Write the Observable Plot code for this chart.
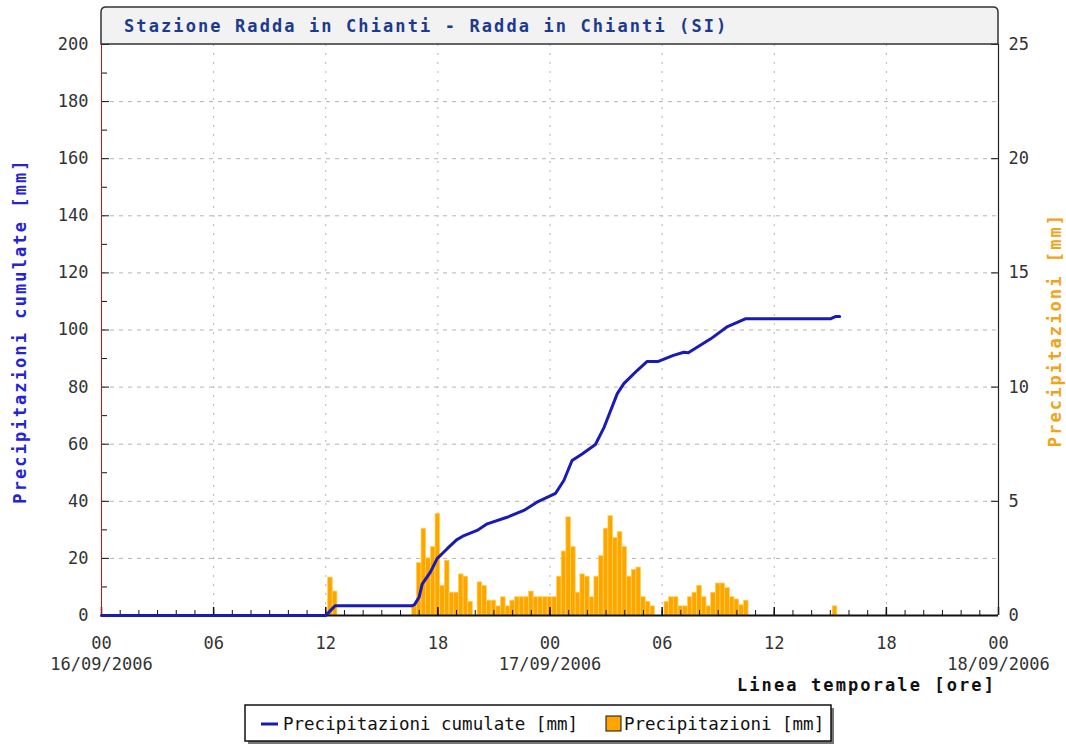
<!DOCTYPE html>
<html>
<head>
<meta charset="utf-8">
<script src="https://cdn.jsdelivr.net/npm/d3@7"></script>
<script src="https://cdn.jsdelivr.net/npm/@observablehq/plot@0.6"></script>
<style>
  html, body { margin: 0; padding: 0; background: #fff; }
  #chart { width: 1066px; height: 746px; }
</style>
</head>
<body>
<div id="chart"></div>
<script>
// ---------- DATA ----------
const title = "Stazione Radda in Chianti - Radda in Chianti (SI)";
const leftLabel = "Precipitazioni cumulate [mm]";
const rightLabel = "Precipitazioni [mm]";
const xLabel = "Linea temporale [ore]";
const legendLine = "Precipitazioni cumulate [mm]";
const legendBar = "Precipitazioni [mm]";

// Cumulative precipitation (hours from 00:00 16/09/2006, mm)
const cumHours = [0, 12, 12.25, 12.5, 16.6, 16.75, 17, 17.16, 17.6, 17.96, 18.5, 19.0, 19.4, 20.1, 20.64, 21.7, 22.6, 23.3, 24.3, 24.74, 25.18, 25.72, 26.43, 26.9, 27.6, 27.95, 28.66, 29.2, 29.8, 30.6, 31.16, 31.4, 32.6, 33.5, 34.45, 39.0, 39.27, 39.5];
const cumValues = [0, 0, 1.7, 3.4, 3.4, 3.8, 6.5, 11, 15.2, 19.9, 23.4, 26.5, 28, 29.8, 32.1, 34.4, 36.8, 39.7, 42.8, 47.3, 54.3, 56.6, 59.9, 66, 77.7, 81.2, 85.8, 89, 89, 91.1, 92.2, 92, 96.9, 101.2, 103.9, 103.9, 104.7, 104.7];

// 15-minute precipitation
const isolatedBarHours = [12.25, 12.5, 39.25];
const isolatedBarValues = [1.66, 1.05, 0.4];
const blockStartHour = 16.75; // 16:45, then every 15 minutes
const blockValues = [
  0.4, 2.3, 3.8, 2.5, 3.0, 4.45, 1.3, 2.4, 1.0, 1.0, 1.8, 1.7, 0.6,
  0.0, 1.45, 1.3, 0.65, 0.65, 0.4, 0.8, 0.4, 0.65, 0.8, 0.8, 0.8, 1.05,
  0.8, 0.8, 0.8, 0.8, 0.8, 1.7, 2.8, 4.3, 3.0, 1.0, 1.8, 1.7, 0.8,
  1.7, 2.6, 3.8, 4.35, 3.4, 3.65, 3.0, 1.7, 2.0, 2.1, 0.8, 0.6, 0.4,
  0.0, 0.0, 0.6, 0.8, 0.8, 0.4, 0.4, 0.8, 1.0, 1.3, 0.8, 0.4, 1.0,
  1.4, 1.4, 1.2, 0.8, 0.7, 0.45, 0.65
];

const leftTicks = [0, 20, 40, 60, 80, 100, 120, 140, 160, 180, 200];
const rightTicks = [0, 5, 10, 15, 20, 25];
const xTickHours = [0, 6, 12, 18, 24, 30, 36, 42, 48];

// ---------- BUILD ----------
const start = Date.UTC(2006, 8, 16);
const H = h => new Date(start + h * 3600e3);
const ratio = 200 / 25; // right axis (mm) -> left axis units

const cum = cumHours.map((h, i) => ({t: H(h), v: cumValues[i]}));
const bars = [];
isolatedBarHours.forEach((h, i) => bars.push({t: H(h), v: isolatedBarValues[i]}));
blockValues.forEach((v, i) => bars.push({t: H(blockStartHour + i * 0.25), v}));

const hourTicks = d3.range(0, 49).map(H);
const majorX = xTickHours.map(H);
const fmtH = d3.utcFormat("%H");
const fmtD = d3.utcFormat("%d/%m/%Y");

const W = 1066, HT = 746;
const mL = 101, mR = 68, mT = 44, mB = 131;
const plotW = W - mL - mR, plotH = HT - mT - mB;
const half = 7.5 * 60e3;

const chart = Plot.plot({
  width: W, height: HT,
  marginLeft: mL, marginRight: mR, marginTop: mT, marginBottom: mB,
  style: {fontFamily: "'DejaVu Sans Mono', monospace", fontSize: "17px", color: "#222", background: "#fff", overflow: "visible"},
  x: {type: "utc", domain: [H(0), H(48)]},
  y: {domain: [0, 200]},
  marks: [
    Plot.gridY(leftTicks.filter(d => d > 0 && d < 200), {stroke: "#b4b4b4", strokeOpacity: 1, strokeDasharray: "4,5"}),
    Plot.gridX(majorX.slice(1, -1), {stroke: "#b4b4b4", strokeOpacity: 1, strokeDasharray: "2,7"}),
    Plot.rect(bars, {
      x1: d => new Date(+d.t - half), x2: d => new Date(+d.t + half),
      y1: 0, y2: d => d.v * ratio,
      fill: "#ffa500", stroke: "#ffd45a", strokeWidth: 0.7
    }),
    // axis ticks (inward)
    Plot.tickX(hourTicks, {x: d => d, insetTop: plotH - 5, stroke: "#111"}),
    Plot.tickX(majorX, {x: d => d, insetTop: plotH - 8, stroke: "#111", strokeWidth: 1.5}),
    Plot.tickY(d3.range(10, 200, 20), {y: d => d, insetRight: plotW - 6, stroke: "#111"}),
    Plot.tickY(leftTicks, {y: d => d, insetRight: plotW - 8, stroke: "#111"}),
    Plot.tickY(rightTicks.map(d => d * ratio), {y: d => d, insetLeft: plotW - 7, stroke: "#111"}),
    // frame
    Plot.ruleX([H(48)], {stroke: "#222", strokeWidth: 1.2}),
    Plot.ruleY([0], {stroke: "#111", strokeWidth: 2}),
    Plot.ruleX([H(0)], {stroke: "#d01010", strokeWidth: 1}),
    // cumulative line
    Plot.line(cum, {x: "t", y: "v", stroke: "#1a1ab4", strokeWidth: 3, strokeLinejoin: "round"}),
    // axes labels
    Plot.axisY(leftTicks, {anchor: "left", tickSize: 0, tickPadding: 13, label: null, fill: "#333"}),
    Plot.axisY(rightTicks.map(d => d * ratio), {anchor: "right", tickSize: 0, tickPadding: 10, label: null, tickFormat: d => String(d / ratio), fill: "#333"}),
    Plot.axisX(majorX, {
      anchor: "bottom", tickSize: 0, tickPadding: 18, label: null, lineHeight: 1.25, fill: "#333",
      tickFormat: d => (+d === +H(0) || +d === +H(24) || +d === +H(48)) ? fmtH(d) + "\n" + fmtD(d) : fmtH(d)
    })
  ]
});

document.getElementById("chart").appendChild(chart);

// ---------- DECORATIONS ----------
const svg = d3.select(chart);
const x0 = mL, x1 = W - mR;

// title box
svg.append("path")
  .attr("d", `M${x0},${mT} V12 Q${x0},7 ${x0 + 5},7 H${x1 - 5} Q${x1},7 ${x1},12 V${mT} Z`)
  .attr("fill", "#f2f2f2").attr("stroke", "#333").attr("stroke-width", 1.5);
svg.append("text").attr("x", 124).attr("y", 32).attr("text-anchor", "start")
  .attr("fill", "#1c3a8e").attr("font-weight", "bold").attr("font-size", 17)
  .attr("letter-spacing", 2.1).text(title);

// axis titles
svg.append("text").attr("transform", "translate(26,331) rotate(-90)")
  .attr("text-anchor", "middle").attr("fill", "#2424d4").attr("font-weight", "bold")
  .attr("font-size", 17).attr("letter-spacing", 2.1).text(leftLabel);
svg.append("text").attr("transform", "translate(1061,330) rotate(-90)")
  .attr("text-anchor", "middle").attr("fill", "#f0a418").attr("font-weight", "bold")
  .attr("font-size", 17).attr("letter-spacing", 2.1).text(rightLabel);
svg.append("text").attr("x", 996).attr("y", 691).attr("text-anchor", "end")
  .attr("fill", "#111").attr("font-weight", "bold").attr("font-size", 17)
  .attr("letter-spacing", 2.1).text(xLabel);

// legend
const lg = svg.append("g").attr("text-anchor", "start");
lg.append("rect").attr("x", 248).attr("y", 708).attr("width", 586).attr("height", 36).attr("fill", "#777");
lg.append("rect").attr("x", 245).attr("y", 705).attr("width", 586).attr("height", 36)
  .attr("fill", "#fff").attr("stroke", "#111").attr("stroke-width", 1.5);
lg.append("line").attr("x1", 261).attr("x2", 278).attr("y1", 724).attr("y2", 724)
  .attr("stroke", "#1a1ab4").attr("stroke-width", 3);
lg.append("text").attr("x", 283).attr("y", 730).attr("text-anchor", "start").attr("fill", "#111").attr("font-size", 17.5).text(legendLine);
lg.append("rect").attr("x", 606).attr("y", 716).attr("width", 15).attr("height", 15)
  .attr("fill", "#ffa500").attr("stroke", "#111").attr("stroke-width", 1);
lg.append("text").attr("x", 624).attr("y", 730).attr("text-anchor", "start").attr("fill", "#111").attr("font-size", 17.5).text(legendBar);
</script>
</body>
</html>
